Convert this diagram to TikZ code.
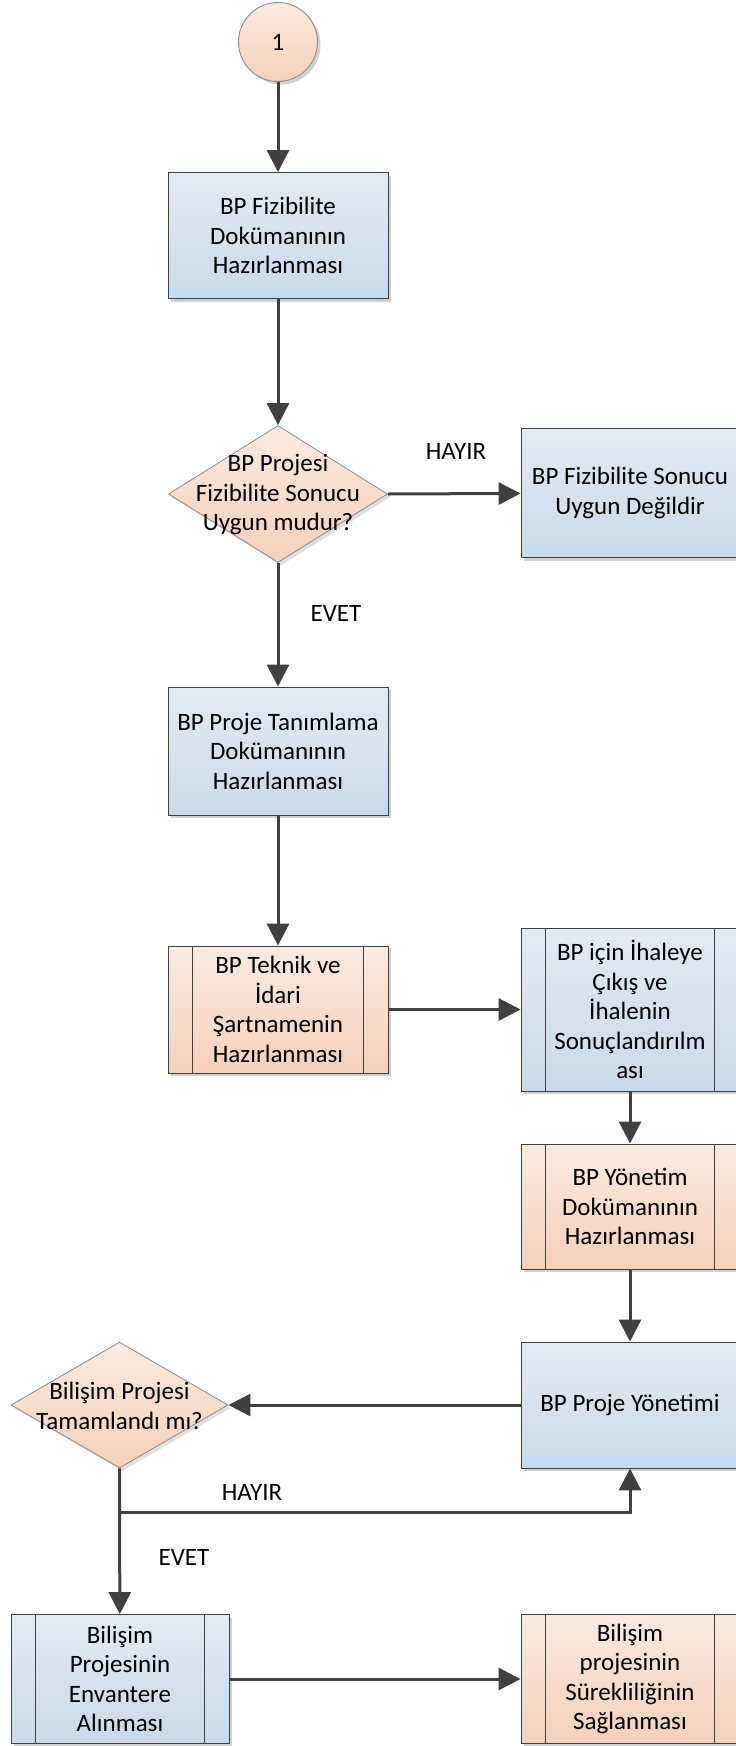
\documentclass[tikz,border=0pt]{standalone}
\usepackage{fontspec}
\setmainfont{Carlito}
\usetikzlibrary{arrows.meta,shapes.geometric,shadows}
\definecolor{bluetop}{HTML}{E2EBF4}
\definecolor{bluebot}{HTML}{C8DAEA}
\definecolor{orgtop}{HTML}{FBEADF}
\definecolor{orgbot}{HTML}{F4D0BA}
\definecolor{linec}{HTML}{404040}
\definecolor{dialine}{HTML}{8C8C8C}
\newcommand{\fs}{\fontsize{25}{29.5}\selectfont}
\tikzset{
  base/.style={draw=linec, line width=0.9pt, align=center, font=\fs, inner sep=2pt,
    drop shadow={shadow xshift=3pt, shadow yshift=-3pt, fill=black, opacity=0.18}},
  bluebox/.style={base, rectangle, top color=bluetop, bottom color=bluebot, minimum width=220pt, minimum height=126pt},
  orgbox/.style={base, rectangle, top color=orgtop, bottom color=orgbot, minimum width=220pt, minimum height=126pt},
  dia/.style={diamond, draw=dialine, line width=0.8pt, top color=orgtop, bottom color=orgbot, inner sep=0pt,
    drop shadow={shadow xshift=3pt, shadow yshift=-3pt, fill=black, opacity=0.12}},
  txt/.style={align=center, font=\fs, inner sep=0pt},
  lbl/.style={font=\fs, inner sep=0pt},
  arr/.style={draw=linec, line width=3pt, -{Triangle[length=22pt, width=22pt]}},
  inner/.style={draw=linec, line width=0.9pt}
}
\begin{document}
\begin{tikzpicture}[x=1pt, y=-1pt]
\useasboundingbox (0,0) rectangle (736,1746);

% start connector
\node[base, circle, draw=dialine, top color=orgtop, bottom color=orgbot, minimum size=79pt] (c1) at (278,42) {1};

% boxes
\node[bluebox] (b1) at (278,235.5) {BP Fizibilite\\Dokümanının\\Hazırlanması};
\node[dia, minimum width=219pt, minimum height=137pt] (d1) at (278,494) {};
\node[txt] (d1t) at (278,495) {BP Projesi\\Fizibilite Sonucu\\Uygun mudur?};
\node[bluebox, minimum width=218pt, minimum height=129pt] (b2) at (630,493) {BP Fizibilite Sonucu\\Uygun Değildir};
\node[bluebox, minimum height=128pt] (b3) at (278,751) {BP Proje Tanımlama\\Dokümanının\\Hazırlanması};
\node[orgbox, minimum height=127pt] (b4) at (278,1009.5) {BP Teknik ve\\İdari\\Şartnamenin\\Hazırlanması};
\node[bluebox, minimum width=218pt, minimum height=163pt] (b5) at (630,1009.5) {BP için İhaleye\\Çıkış ve\\İhalenin\\Sonuçlandırılm\\ası};
\node[orgbox, minimum width=218pt, minimum height=125pt] (b6) at (630,1206.5) {BP Yönetim\\Dokümanının\\Hazırlanması};
\node[bluebox, minimum width=218pt, minimum height=126pt] (b7) at (630,1405) {BP Proje Yönetimi};
\node[dia, minimum width=217pt, minimum height=126pt] (d2) at (119.5,1405) {};
\node[txt] (d2t) at (119.5,1406) {Bilişim Projesi\\Tamamlandı mı?};
\node[bluebox, minimum width=218pt, minimum height=129pt] (b8) at (120,1679) {Bilişim\\Projesinin\\Envantere\\Alınması};
\node[orgbox, minimum width=218pt, minimum height=129pt] (b9) at (630,1679) {Bilişim\\projesinin\\Sürekliliğinin\\Sağlanması};

% predefined-process inner lines
\foreach \n in {b4,b5,b6,b8,b9}{
  \draw[inner] ([xshift=25pt]\n.north west) -- ([xshift=25pt]\n.south west);
  \draw[inner] ([xshift=-25pt]\n.north east) -- ([xshift=-25pt]\n.south east);
}

% connectors
\draw[arr] (c1) -- (b1);
\draw[arr] (b1) -- (d1.north);
\draw[arr] (d1.east) -- (b2);
\draw[arr] (d1.south) -- (b3);
\draw[arr] (b3) -- (b4);
\draw[arr] (b4) -- (b5);
\draw[arr] (b5) -- (b6);
\draw[arr] (b6) -- (b7);
\draw[arr] (b7) -- (d2.east);
\coordinate (h) at (119.5,1512);
\draw[arr] (d2.south) -- (b8);
\draw[arr] (h) -| (b7.south);
\draw[arr] (b8) -- (b9);

% labels
\node[lbl] (l1) at (456,451) {HAYIR};
\node[lbl] (l2) at (336,613) {EVET};
\node[lbl] (l3) at (252,1492) {HAYIR};
\node[lbl] (l4) at (184,1557) {EVET};
\end{tikzpicture}
\end{document}
